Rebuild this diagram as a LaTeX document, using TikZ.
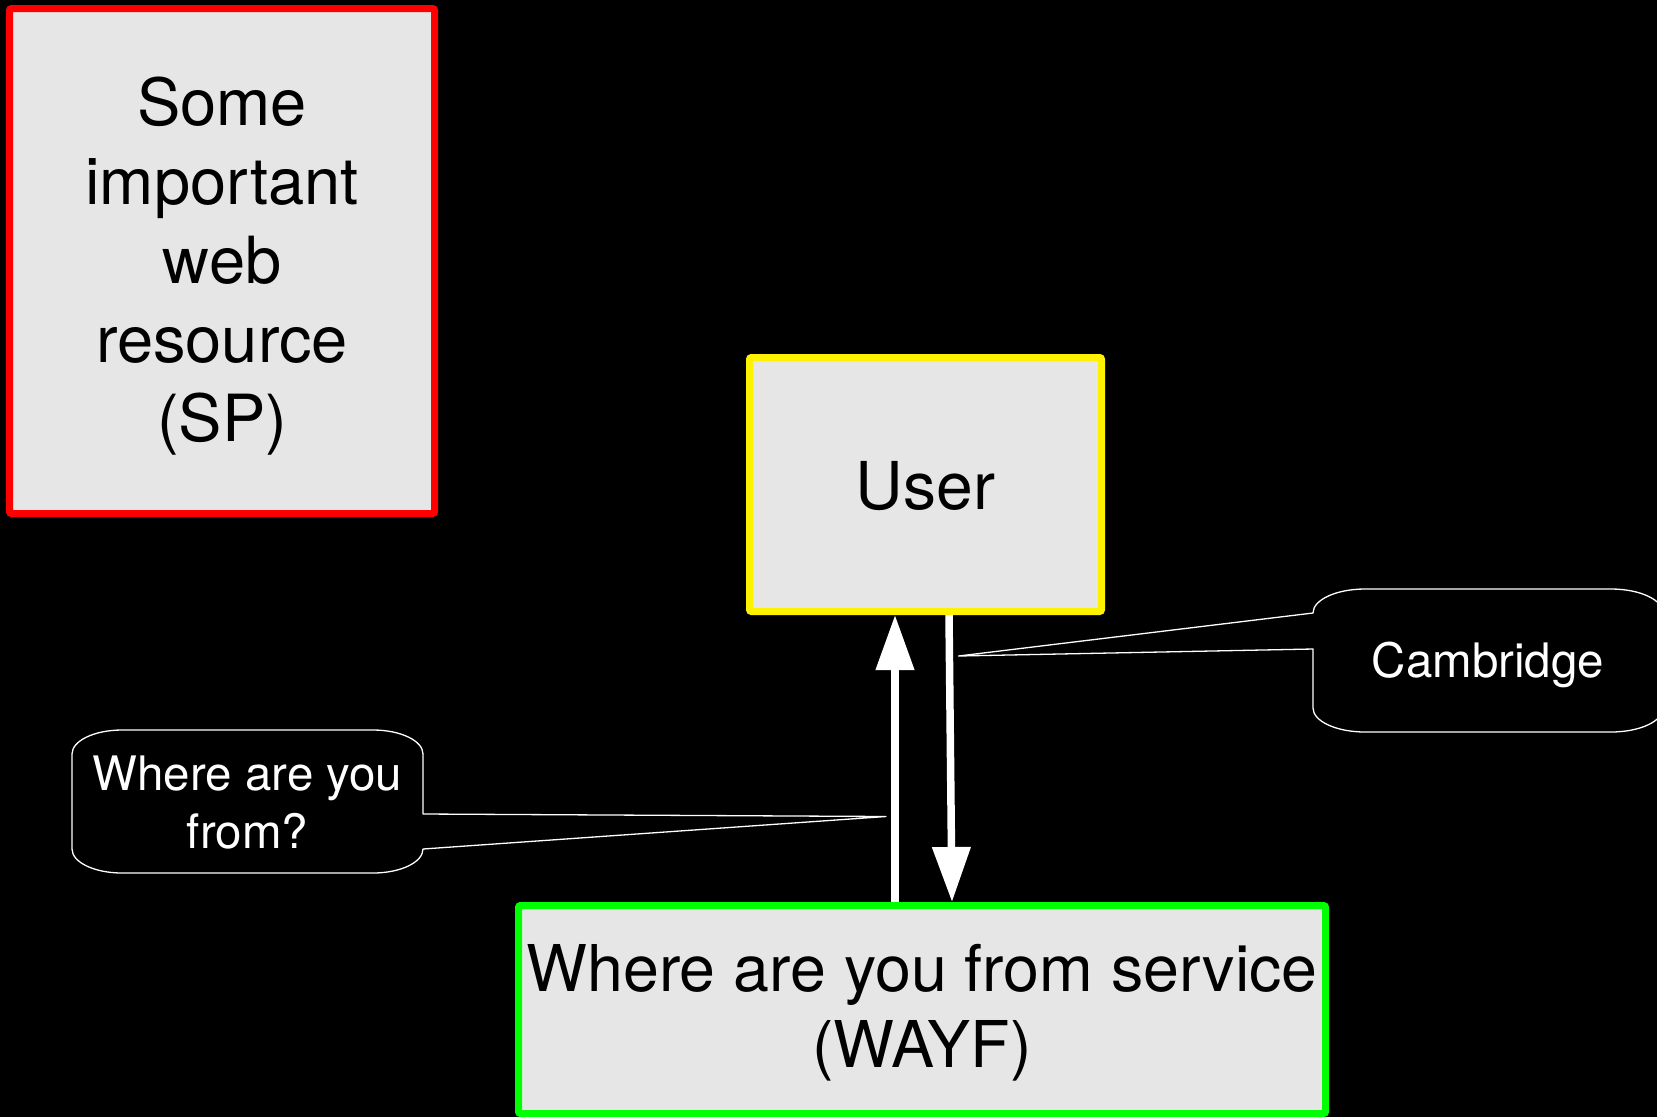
\documentclass[tikz,border=0pt]{standalone}
\usepackage{fontspec}
\setmainfont{TeX Gyre Heros}
\usetikzlibrary{arrows.meta}
\definecolor{boxfill}{HTML}{E6E6E6}
\begin{document}
\begin{tikzpicture}[x=1pt,y=-1pt,
  box/.style={draw, line width=7pt, fill=boxfill, rounded corners=2pt,
    inner sep=0pt},
  boxtext/.style={align=center, text=black, inner sep=0pt},
  flow/.style={draw=white, line width=7.5pt,
    -{Triangle[width=37pt,length=55pt]}},
  bubble/.style={draw=white, line width=1.3pt, fill=black, line join=round},
  saytext/.style={text=white, align=center, inner sep=0pt,
    font=\fontsize{47.5}{58}\selectfont}
]
% black canvas
\fill[black] (0,0) rectangle (1657,1117);
\useasboundingbox (0,0) rectangle (1657,1117);

% the three parties
\node[box, draw=red, minimum width=425pt, minimum height=505pt] (sp) at (222,261) {};
\node[boxtext, font=\fontsize{65}{79}\selectfont] (sptext) at ([yshift=-5pt]sp.center)
  {Some\\important\\web\\resource\\(SP)};
\node[box, draw=yellow, minimum width=352pt, minimum height=254pt] (user) at (925.5,484.5) {};
\node[boxtext, font=\fontsize{66}{79}\selectfont] (usertext) at ([yshift=-2pt]user.center) {User};
\node[box, draw=green, minimum width=807pt, minimum height=208pt] (wayf) at (922,1009.5) {};
\node[boxtext, font=\fontsize{64.5}{76}\selectfont] (wayftext) at ([yshift=-3pt]wayf.center)
  {Where are you from service\\(WAYF)};

% request and reply
\draw[flow] ([xshift=-27pt]wayf.north) -- ([xshift=-30.5pt]user.south);
\draw[flow] ([xshift=23.5pt]user.south) -- ([xshift=30pt]wayf.north);

% speech bubble: the question
\coordinate (asktip) at (886,816.5);
\path[bubble] (72,754) arc[start angle=180, end angle=270, x radius=50, y radius=24]
  -- (373,730) arc[start angle=270, end angle=360, x radius=50, y radius=24]
  -- (423,814) -- (asktip) -- (423,849)
  arc[start angle=0, end angle=90, x radius=50, y radius=24]
  -- (122,873) arc[start angle=90, end angle=180, x radius=50, y radius=24]
  -- cycle;
\node[saytext] (ask) at (247.5,803) {Where are you\\from?};

% speech bubble: the answer
\coordinate (replytip) at (958.5,656);
\path[bubble] (1313,613) arc[start angle=180, end angle=270, x radius=52, y radius=24]
  -- (1611,589) arc[start angle=270, end angle=360, x radius=52, y radius=24]
  -- (1663,708) arc[start angle=0, end angle=90, x radius=52, y radius=24]
  -- (1365,732) arc[start angle=90, end angle=180, x radius=52, y radius=24]
  -- (1313,649) -- (replytip) -- cycle;
\node[saytext] (reply) at (1488,665) {Cambridge};
\end{tikzpicture}
\end{document}
